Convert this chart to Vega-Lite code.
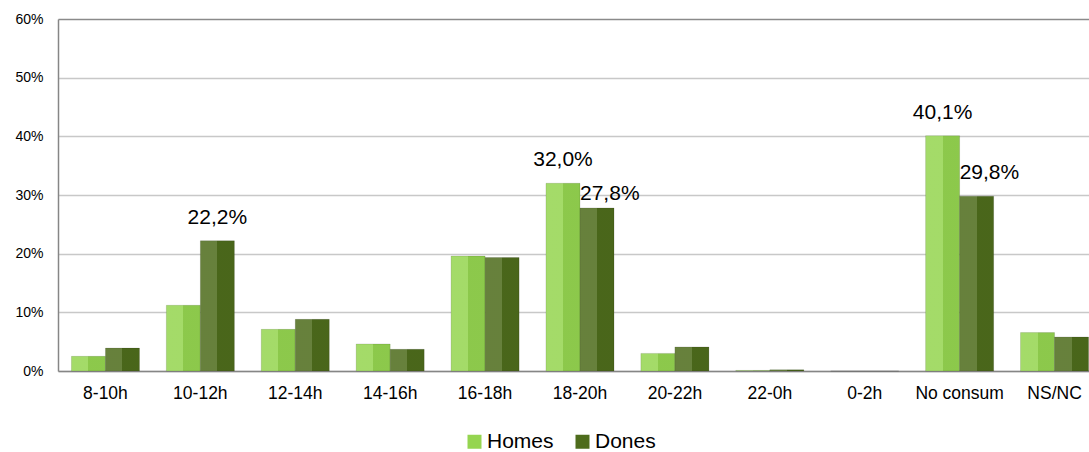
{
  "$schema": "https://vega.github.io/schema/vega-lite/v6.json",
  "width": 1031,
  "height": 352,
  "autosize": {"type": "none"},
  "padding": {"left": 58, "top": 19, "right": 0, "bottom": 81},
  "config": {
    "font": "Liberation Sans",
    "view": {"stroke": null},
    "axis": {"labelColor": "#000000", "labelFont": "Liberation Sans"},
    "legend": {"labelFont": "Liberation Sans", "labelColor": "#000000"}
  },
  "data": {
    "values": [
      {"hora": "8-10h", "serie": "Homes", "valor": 2.5, "etiqueta": ""},
      {"hora": "8-10h", "serie": "Dones", "valor": 3.9, "etiqueta": ""},
      {"hora": "10-12h", "serie": "Homes", "valor": 11.2, "etiqueta": ""},
      {"hora": "10-12h", "serie": "Dones", "valor": 22.2, "etiqueta": "22,2%"},
      {"hora": "12-14h", "serie": "Homes", "valor": 7.1, "etiqueta": ""},
      {"hora": "12-14h", "serie": "Dones", "valor": 8.8, "etiqueta": ""},
      {"hora": "14-16h", "serie": "Homes", "valor": 4.6, "etiqueta": ""},
      {"hora": "14-16h", "serie": "Dones", "valor": 3.7, "etiqueta": ""},
      {"hora": "16-18h", "serie": "Homes", "valor": 19.6, "etiqueta": ""},
      {"hora": "16-18h", "serie": "Dones", "valor": 19.35, "etiqueta": ""},
      {"hora": "18-20h", "serie": "Homes", "valor": 32.0, "etiqueta": "32,0%"},
      {"hora": "18-20h", "serie": "Dones", "valor": 27.8, "etiqueta": "27,8%"},
      {"hora": "20-22h", "serie": "Homes", "valor": 3.0, "etiqueta": ""},
      {"hora": "20-22h", "serie": "Dones", "valor": 4.1, "etiqueta": ""},
      {"hora": "22-0h", "serie": "Homes", "valor": 0.1, "etiqueta": ""},
      {"hora": "22-0h", "serie": "Dones", "valor": 0.2, "etiqueta": ""},
      {"hora": "0-2h", "serie": "Homes", "valor": 0, "etiqueta": ""},
      {"hora": "0-2h", "serie": "Dones", "valor": 0, "etiqueta": ""},
      {"hora": "No consum", "serie": "Homes", "valor": 40.1, "etiqueta": "40,1%"},
      {"hora": "No consum", "serie": "Dones", "valor": 29.8, "etiqueta": "29,8%"},
      {"hora": "NS/NC", "serie": "Homes", "valor": 6.55, "etiqueta": ""},
      {"hora": "NS/NC", "serie": "Dones", "valor": 5.8, "etiqueta": ""}
    ]
  },
  "encoding": {
    "x": {
      "field": "hora",
      "type": "nominal",
      "sort": null,
      "scale": {"range": [0, 1044], "paddingInner": 0.283, "paddingOuter": 0.1415},
      "axis": {
        "title": null,
        "labelAngle": 0,
        "labelFontSize": 17.5,
        "labelPadding": 13,
        "ticks": false,
        "grid": false,
        "domainColor": "#868686",
        "domainWidth": 1.5
      }
    },
    "xOffset": {
      "field": "serie",
      "type": "nominal",
      "sort": ["Homes", "Dones"],
      "scale": {"paddingInner": 0, "paddingOuter": 0}
    },
    "y": {
      "field": "valor",
      "type": "quantitative",
      "scale": {"domain": [0, 60], "nice": false},
      "axis": {
        "title": null,
        "values": [0, 10, 20, 30, 40, 50, 60],
        "labelExpr": "datum.value + '%'",
        "labelFontSize": 14,
        "labelPadding": 15,
        "ticks": false,
        "domainColor": "#868686",
        "domainWidth": 1.5,
        "gridColor": {"condition": {"test": "datum.value === 60", "value": "#8a8a8a"}, "value": "#c8c8c8"},
        "gridWidth": 1.3
      }
    }
  },
  "layer": [
    {
      "mark": {"type": "bar", "stroke": "#000000", "strokeOpacity": 0.12, "strokeWidth": 1},
      "encoding": {
        "color": {
          "field": "serie",
          "type": "nominal",
          "scale": {"domain": ["Homes", "Dones"], "range": ["#95D550", "#4E6C1C"]},
          "legend": {
            "orient": "none",
            "legendX": 406,
            "legendY": 412,
            "direction": "horizontal",
            "title": null,
            "symbolType": "square",
            "symbolSize": 196,
            "symbolStrokeWidth": 0,
            "labelFontSize": 21,
            "labelOffset": 2,
            "columnPadding": 18
          }
        }
      }
    },
    {
      "mark": {
        "type": "bar",
        "fill": {
          "gradient": "linear",
          "x1": 0, "y1": 0, "x2": 1, "y2": 0,
          "stops": [
            {"offset": 0, "color": "rgba(255,255,255,0.14)"},
            {"offset": 0.5, "color": "rgba(255,255,255,0.14)"},
            {"offset": 0.501, "color": "rgba(0,0,0,0.06)"},
            {"offset": 1, "color": "rgba(0,0,0,0.06)"}
          ]
        }
      }
    },
    {
      "transform": [{"filter": "datum.etiqueta == '22,2%' || datum.etiqueta == '32,0%' || datum.etiqueta == '40,1%'"}],
      "mark": {"type": "text", "align": "center", "baseline": "alphabetic", "dy": -17, "fontSize": 21, "color": "#000000"},
      "encoding": {"text": {"field": "etiqueta"}}
    },
    {
      "transform": [{"filter": "datum.etiqueta == '29,8%'"}],
      "mark": {"type": "text", "align": "left", "baseline": "alphabetic", "dx": -17, "dy": -17, "fontSize": 21, "color": "#000000"},
      "encoding": {"text": {"field": "etiqueta"}}
    },
    {
      "transform": [{"filter": "datum.etiqueta == '27,8%'"}],
      "mark": {"type": "text", "align": "left", "baseline": "alphabetic", "dx": -17, "dy": -8, "fontSize": 21, "color": "#000000"},
      "encoding": {"text": {"field": "etiqueta"}}
    }
  ]
}
